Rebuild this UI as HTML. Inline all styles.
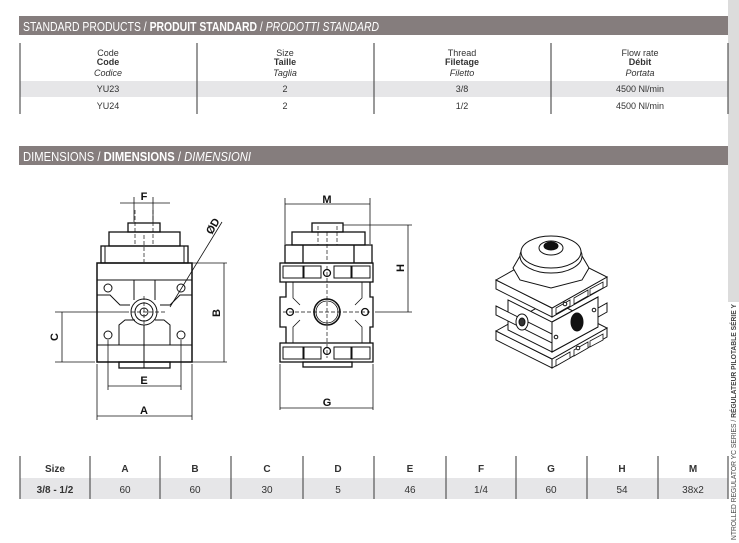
<!DOCTYPE html>
<html><head><meta charset="utf-8"><style>
html,body{margin:0;padding:0;background:#fff;width:739px;height:543px;overflow:hidden}
svg{display:block}
text{font-family:"Liberation Sans Narrow","Liberation Sans",sans-serif}
</style></head><body>
<svg width="739" height="543" viewBox="0 0 739 543" xmlns="http://www.w3.org/2000/svg">
<!-- sidebar -->
<rect x="728" y="0" width="11" height="302" fill="#dcdcdc"/>
<text transform="translate(736,540) rotate(-90)" font-size="7" fill="#444" textLength="236" lengthAdjust="spacingAndGlyphs">NTROLLED REGULATOR YC SERIES / <tspan font-weight="bold">RÉGULATEUR PILOTABLE SÉRIE Y</tspan></text>

<!-- header bars -->
<rect x="19" y="16" width="709" height="19" fill="#857d7d"/>
<text x="23" y="31" font-size="13" fill="#fff" textLength="356" lengthAdjust="spacingAndGlyphs">STANDARD PRODUCTS / <tspan font-weight="bold">PRODUIT STANDARD</tspan> / <tspan font-style="italic">PRODOTTI STANDARD</tspan></text>
<rect x="19" y="146" width="709" height="19" fill="#857d7d"/>
<text x="23" y="161" font-size="13" fill="#fff" textLength="228" lengthAdjust="spacingAndGlyphs">DIMENSIONS / <tspan font-weight="bold">DIMENSIONS</tspan> / <tspan font-style="italic">DIMENSIONI</tspan></text>

<!-- products table -->
<rect x="20" y="81" width="708" height="16" fill="#e6e6e8"/>
<g stroke="#555" stroke-width="1.2">
<line x1="20" y1="43" x2="20" y2="114"/><line x1="197" y1="43" x2="197" y2="114"/>
<line x1="374" y1="43" x2="374" y2="114"/><line x1="551" y1="43" x2="551" y2="114"/>
<line x1="728" y1="43" x2="728" y2="114"/>
</g>
<g font-size="9" fill="#333" text-anchor="middle">
<text x="108" y="56">Code</text><text x="108" y="65" font-weight="bold">Code</text><text x="108" y="76" font-style="italic">Codice</text>
<text x="285" y="56">Size</text><text x="285" y="65" font-weight="bold">Taille</text><text x="285" y="76" font-style="italic">Taglia</text>
<text x="462" y="56">Thread</text><text x="462" y="65" font-weight="bold">Filetage</text><text x="462" y="76" font-style="italic">Filetto</text>
<text x="640" y="56">Flow rate</text><text x="640" y="65" font-weight="bold">Débit</text><text x="640" y="76" font-style="italic">Portata</text>
<text x="108" y="92">YU23</text><text x="285" y="92">2</text><text x="462" y="92">3/8</text><text x="640" y="92">4500 Nl/min</text>
<text x="108" y="109">YU24</text><text x="285" y="109">2</text><text x="462" y="109">1/2</text><text x="640" y="109">4500 Nl/min</text>
</g>

<!-- dims table -->
<rect x="20" y="478" width="708" height="21" fill="#e6e6e8"/>
<g stroke="#555" stroke-width="1.2">
<line x1="20" y1="456" x2="20" y2="499"/><line x1="90" y1="456" x2="90" y2="499"/>
<line x1="160" y1="456" x2="160" y2="499"/><line x1="231" y1="456" x2="231" y2="499"/>
<line x1="303" y1="456" x2="303" y2="499"/><line x1="374" y1="456" x2="374" y2="499"/>
<line x1="446" y1="456" x2="446" y2="499"/><line x1="516" y1="456" x2="516" y2="499"/>
<line x1="587" y1="456" x2="587" y2="499"/><line x1="658" y1="456" x2="658" y2="499"/>
<line x1="728" y1="456" x2="728" y2="499"/>
</g>
<g font-size="10" fill="#333" text-anchor="middle">
<g font-weight="bold">
<text x="55" y="472">Size</text><text x="125" y="472">A</text><text x="195" y="472">B</text><text x="267" y="472">C</text><text x="338" y="472">D</text><text x="410" y="472">E</text><text x="481" y="472">F</text><text x="551" y="472">G</text><text x="622" y="472">H</text><text x="693" y="472">M</text>
<text x="55" y="493">3/8 - 1/2</text></g>
<text x="125" y="493">60</text><text x="195" y="493">60</text><text x="267" y="493">30</text><text x="338" y="493">5</text><text x="410" y="493">46</text><text x="481" y="493">1/4</text><text x="551" y="493">60</text><text x="622" y="493">54</text><text x="693" y="493">38x2</text>
</g>

<!-- LEFT VIEW -->
<g fill="none" stroke="#111" stroke-width="1">
<rect x="97" y="263" width="95" height="99" stroke-width="1.5"/>
<rect x="101" y="246" width="87" height="17" stroke-width="1.3"/>
<line x1="105" y1="246" x2="105" y2="263"/><line x1="184" y1="246" x2="184" y2="263"/>
<rect x="109" y="232" width="71" height="14" stroke-width="1.3"/>
<rect x="128" y="223" width="32" height="9" stroke-width="1.3"/>
<rect x="119" y="362" width="51" height="6" stroke-width="1.3"/>
<line x1="144" y1="362" x2="144" y2="368"/>
<line x1="97" y1="280" x2="192" y2="280"/>
<line x1="97" y1="345" x2="192" y2="345"/>
<polyline points="97,295 110,295 120,305 130,305"/>
<polyline points="192,295 180,295 170,305 160,305"/>
<polyline points="119,345 119,325 125,320 135,320"/>
<polyline points="170,345 170,325 164,320 155,320"/>
<line x1="134" y1="280" x2="134" y2="300"/><line x1="155" y1="280" x2="155" y2="300"/>
<line x1="144" y1="325" x2="144" y2="362"/>
<circle cx="108" cy="288" r="4"/><circle cx="181" cy="288" r="4"/>
<circle cx="108" cy="335" r="4"/><circle cx="181" cy="335" r="4"/>
<circle cx="144" cy="312" r="13"/><circle cx="144" cy="312" r="9"/><circle cx="144" cy="312" r="4"/>
<g stroke-dasharray="4,2" stroke-width="0.7">
<line x1="135" y1="210" x2="135" y2="246"/><line x1="153" y1="210" x2="153" y2="246"/>
<line x1="144" y1="235" x2="144" y2="262"/>
<line x1="125" y1="312" x2="165" y2="312"/><line x1="144" y1="296" x2="144" y2="328"/>
</g>
<g stroke-width="0.8">
<line x1="134" y1="197" x2="134" y2="222"/><line x1="153" y1="197" x2="153" y2="222"/>
<line x1="120" y1="203" x2="170" y2="203"/>
<line x1="170" y1="307" x2="222" y2="222"/>
<line x1="192" y1="263" x2="227" y2="263"/><line x1="192" y1="362" x2="227" y2="362"/>
<line x1="224" y1="263" x2="224" y2="362"/>
<line x1="55" y1="312" x2="125" y2="312"/><line x1="55" y1="362" x2="95" y2="362"/>
<line x1="62" y1="312" x2="62" y2="362"/>
<line x1="108" y1="340" x2="108" y2="390"/><line x1="181" y1="340" x2="181" y2="390"/>
<line x1="108" y1="386" x2="181" y2="386"/>
<line x1="97" y1="364" x2="97" y2="420"/><line x1="192" y1="364" x2="192" y2="420"/>
<line x1="97" y1="416" x2="192" y2="416"/>
</g>
</g>
<g font-size="11" font-weight="bold" fill="#111" text-anchor="middle" font-family="Liberation Sans">
<text x="144" y="200">F</text>
<text x="144" y="384">E</text>
<text x="144" y="414">A</text>
<text transform="translate(220,313) rotate(-90)">B</text>
<text transform="translate(58,337) rotate(-90)">C</text>
<text transform="translate(216,228) rotate(-60)">ØD</text>
<text x="327" y="203">M</text>
<text x="327" y="406">G</text>
<text transform="translate(404,268) rotate(-90)">H</text>
</g>

<!-- RIGHT VIEW -->
<g fill="none" stroke="#111" stroke-width="1.3">
<rect x="285" y="245" width="87" height="18"/>
<rect x="292" y="232" width="73" height="13"/>
<rect x="312" y="223" width="31" height="9"/>
<line x1="303" y1="245" x2="303" y2="263"/><line x1="354" y1="245" x2="354" y2="263"/>
<rect x="280" y="263" width="93" height="19"/>
<rect x="280" y="343" width="93" height="19"/>
<rect x="283" y="266" width="20" height="12" stroke-width="1"/><rect x="304" y="266" width="17" height="12" stroke-width="1"/>
<rect x="334" y="266" width="17" height="12" stroke-width="1"/><rect x="352" y="266" width="18" height="12" stroke-width="1"/>
<rect x="283" y="347" width="20" height="12" stroke-width="1"/><rect x="304" y="347" width="17" height="12" stroke-width="1"/>
<rect x="334" y="347" width="17" height="12" stroke-width="1"/><rect x="352" y="347" width="18" height="12" stroke-width="1"/>
<polyline points="286,282 286,297 280,297 280,327 286,327 286,343"/>
<polyline points="370,282 370,297 373,297 373,327 370,327 370,343"/>
<polyline points="293,282 293,298 300,305" stroke-width="0.8"/>
<polyline points="362,282 362,298 355,305" stroke-width="0.8"/>
<polyline points="293,343 293,327 300,320" stroke-width="0.8"/>
<polyline points="362,343 362,327 355,320" stroke-width="0.8"/>
<rect x="303" y="362" width="49" height="5"/>
<circle cx="327" cy="312" r="13" stroke-width="1.6"/><circle cx="327" cy="312" r="11" stroke-width="0.8"/>
<circle cx="327" cy="273" r="3.5"/><circle cx="327" cy="351" r="3.5"/>
<circle cx="290" cy="312" r="3.5"/><circle cx="365" cy="312" r="3.5"/>
<g stroke-dasharray="4,2" stroke-width="0.7">
<line x1="318" y1="226" x2="318" y2="245"/><line x1="337" y1="226" x2="337" y2="245"/>
<line x1="327" y1="232" x2="327" y2="262"/>
<line x1="283" y1="312" x2="370" y2="312"/><line x1="327" y1="266" x2="327" y2="358"/>
</g>
<g stroke-width="0.8">
<line x1="285" y1="198" x2="285" y2="244"/><line x1="370" y1="198" x2="370" y2="244"/>
<line x1="285" y1="204" x2="370" y2="204"/>
<line x1="343" y1="225" x2="412" y2="225"/><line x1="375" y1="312" x2="412" y2="312"/>
<line x1="408" y1="225" x2="408" y2="312"/>
<line x1="280" y1="364" x2="280" y2="410"/><line x1="373" y1="364" x2="373" y2="410"/>
<line x1="280" y1="408" x2="373" y2="408"/>
</g>
</g>

<!-- 3D VIEW -->
<g fill="#fff" stroke="#111" stroke-width="1">
<polygon points="496,331 552,359 552,368 496,340"/>
<polygon points="552,359 607,328 607,337 552,368"/>
<polygon points="496,331 551,300 607,328 552,359"/>
<polygon points="508,300 552,322 552,352 508,330"/>
<polygon points="552,322 598,297 598,327 552,352"/>
<polygon points="496,306 552,334 552,343 496,315"/>
<polygon points="552,334 607,303 607,312 552,343"/>
<polygon points="552,322 598,297 598,327 552,352"/>
<polygon points="496,280 552,308 552,317 496,289"/>
<polygon points="552,308 607,277 607,286 552,317"/>
<polygon points="496,280 551,249 607,277 552,308"/>
<polygon points="556,308 570,300 570,306 556,314" stroke-width="0.8"/>
<polygon points="574,298 588,290 588,296 574,304" stroke-width="0.8"/>
<polygon points="590,289 603,282 603,288 590,295" stroke-width="0.8"/>
<polygon points="556,360 570,352 570,358 556,366" stroke-width="0.8"/>
<polygon points="574,350 588,342 588,348 574,356" stroke-width="0.8"/>
<polygon points="590,341 603,334 603,340 590,347" stroke-width="0.8"/>
<polygon points="513,268 520,280 551,288 582,280 589,268 582,256 520,256"/>
<ellipse cx="551" cy="256" rx="31" ry="17"/>
<ellipse cx="551" cy="252" rx="30" ry="16"/>
<ellipse cx="551" cy="248" rx="12" ry="7"/>
<ellipse cx="551" cy="246" rx="7" ry="4" fill="#111"/>
<ellipse cx="577" cy="322" rx="6" ry="9" fill="#111"/>
<ellipse cx="522" cy="322" rx="6" ry="8"/>
<ellipse cx="522" cy="322" rx="3" ry="4" fill="#333"/>
<circle cx="565" cy="304" r="1.8"/><circle cx="594" cy="310" r="1.8"/>
<circle cx="556" cy="337" r="1.8"/><circle cx="578" cy="348" r="1.8"/>
</g>
</svg>
</body></html>
